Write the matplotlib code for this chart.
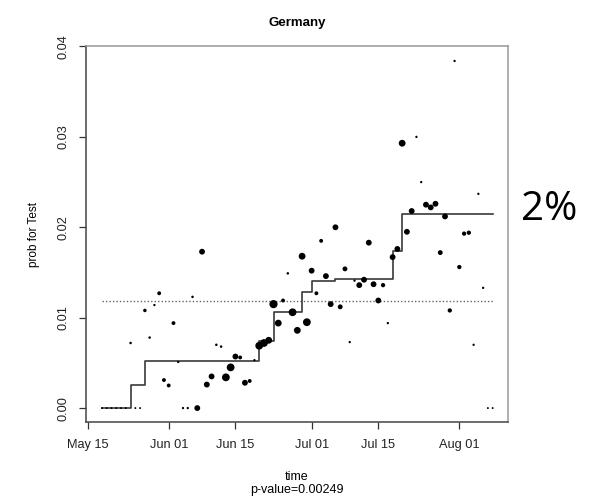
import matplotlib
matplotlib.use("Agg")
import matplotlib.pyplot as plt
import matplotlib.dates as mdates
import numpy as np
import pandas as pd

plt.rcParams['font.family'] = ['Liberation Sans', 'DejaVu Sans']

# daily estimates, May 18 .. Aug 08
dates = pd.date_range('2020-05-18', '2020-08-08', freq='D')
prob = [0, 0, 0, 0, 0, 0,
        0.0072, 0, 0, 0.0108, 0.0078, 0.0114, 0.0127, 0.0031, 0.0025, 0.0094,
        0.0051, 0, 0, 0.0123, 0, 0.0173, 0.0026, 0.0035, 0.0070, 0.0068,
        0.0034, 0.0045, 0.0057, 0.0056, 0.0028, 0.0030, 0.0053, 0.0069, 0.0072, 0.0075,
        0.0115, 0.0094, 0.0119, 0.0149, 0.0106, 0.0086, 0.0168, 0.0095, 0.0152, 0.0127,
        0.0185, 0.0146, 0.0115, 0.0200, 0.0112, 0.0154, 0.0073, 0.0141, 0.0136, 0.0142,
        0.0183, 0.0137, 0.0119, 0.0136, 0.0094, 0.0167, 0.0176, 0.0293, 0.0195, 0.0218,
        0.0300, 0.0250, 0.0225, 0.0222, 0.0226, 0.0172, 0.0212, 0.0108, 0.0384, 0.0156,
        0.0193, 0.0194, 0.0070, 0.0237, 0.0133, 0, 0]
# relative point size (sample weight)
weight = [1, 1, 1, 1, 1, 1,
          1.3, 1, 1, 1.8, 1.3, 1.2, 2, 2, 2, 2,
          1.2, 1.2, 1.2, 1.3, 3, 3, 3, 3, 1.3, 1.3,
          4, 4, 3, 2, 3, 2, 1.2, 4, 4, 3.5,
          4.2, 3.5, 2, 1.3, 4, 3.5, 3.5, 4, 3, 2,
          2, 3, 3, 3, 2.5, 2.5, 1.2, 1.2, 3, 3,
          3, 3, 3, 2.2, 1.2, 3, 3, 3.5, 3, 3,
          1.2, 1.2, 3, 3, 3, 2.5, 3, 2.2, 1.2, 2.2,
          2.2, 2.2, 1.2, 1.2, 1.2, 1, 1]

# fitted step curve
step_dates = pd.to_datetime(['2020-05-18', '2020-05-24', '2020-05-27', '2020-06-20',
                             '2020-06-23', '2020-06-29', '2020-07-01', '2020-07-06',
                             '2020-07-18', '2020-07-20', '2020-08-08'])
step_vals = [0, 0.0026, 0.0052, 0.0074, 0.0106, 0.0128, 0.0141, 0.0143,
             0.0174, 0.0215, 0.0215]
overall_mean = 0.0118

tick_dates = pd.to_datetime(['2020-05-15', '2020-06-01', '2020-06-15',
                             '2020-07-01', '2020-07-15', '2020-08-01'])
y_ticks = [0.00, 0.01, 0.02, 0.03, 0.04]

fig = plt.figure(figsize=(5.9, 5.01), dpi=100)
ax = fig.add_axes([0.1464, 0.1577, 0.8615 - 0.1464, 0.9072 - 0.1577])

ax.step(step_dates, step_vals, where='post', color='#3a3a3a', lw=1.2, zorder=2)
ax.plot([dates[0], dates[-1]], [overall_mean, overall_mean], ls=(0, (1, 1.5)),
        color='#666666', lw=1, zorder=1)
ax.scatter(dates, prob, s=(1.4 * np.array(weight)) ** 2, color='black',
           lw=0, zorder=3)

ax.set_xlim(dates[0] - pd.Timedelta(days=3.28), dates[-1] + pd.Timedelta(days=3.28))
ax.set_ylim(-0.00154, 0.03994)
ax.set_xticks(tick_dates)
ax.xaxis.set_major_formatter(mdates.DateFormatter('%b %d'))
ax.set_yticks(y_ticks)
ax.set_yticklabels(['%.2f' % v for v in y_ticks], rotation=90, va='center')

ax.tick_params(direction='out', length=5, width=0.9, color='#333333',
               labelsize=9.2, labelcolor='#222222')
ax.tick_params(axis='x', pad=7.5)
ax.tick_params(axis='y', pad=7)
for side in ['left', 'bottom']:
    ax.spines[side].set_color('#444444')
    ax.spines[side].set_linewidth(1.1)
for side in ['top', 'right']:
    ax.spines[side].set_color('#999999')
    ax.spines[side].set_linewidth(1.1)

ax.set_title('Germany', fontsize=9.5, fontweight='bold', pad=15)
ax.set_ylabel('prob for Test', fontsize=8.5, labelpad=13)
fig.text(0.5035, 1 - 477 / 501, 'time', ha='center', va='center', fontsize=9)
fig.text(0.5035, 1 - 490 / 501, 'p-value=0.00249', ha='center', va='center', fontsize=9)

fig.text(521 / 590, 1 - 210 / 501, '2%', ha='left', va='center',
         fontsize=29, family=['Open Sans', 'DejaVu Sans'])

fig.savefig('out.png', dpi=100)
